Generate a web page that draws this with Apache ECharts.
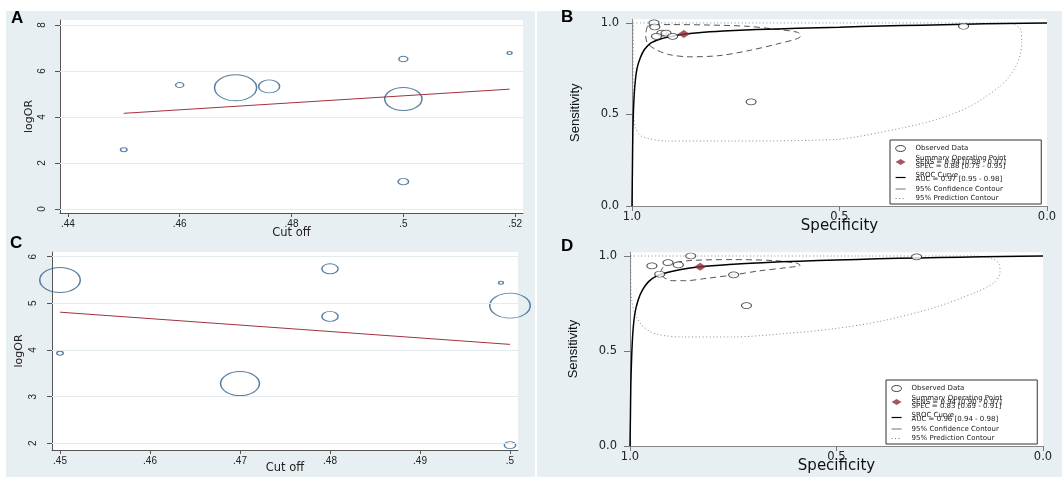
<!DOCTYPE html>
<html>
<head>
<meta charset="utf-8">
<script src="https://cdn.jsdelivr.net/npm/echarts@6/dist/echarts.min.js"></script>
<style>
html, body { margin: 0; padding: 0; background: #fff; }
#main { width: 1062px; height: 477px; }
</style>
</head>
<body>
<div id="main"></div>
<script>
// --- panel A: meta-regression of logOR on cut off (bubble = study weight)
const aCut    = [0.450, 0.460, 0.470, 0.476, 0.500, 0.500, 0.500, 0.519];
const aLogOR  = [2.58, 5.39, 5.27, 5.33, 6.52, 4.78, 1.19, 6.78];
const aWeight = [16, 25, 676, 169, 30, 529, 42, 9];
const aFitCut = [0.450, 0.519];
const aFit    = [4.16, 5.21];
const aXTicks = [0.44, 0.46, 0.48, 0.50, 0.52];
const aYTicks = [0, 2, 4, 6, 8];

// --- panel C
const cCut    = [0.450, 0.450, 0.470, 0.480, 0.480, 0.499, 0.500, 0.500];
const cLogOR  = [5.50, 3.93, 3.28, 5.74, 4.72, 5.44, 4.95, 1.96];
const cWeight = [625, 16, 576, 100, 100, 9, 625, 49];
const cFitCut = [0.450, 0.500];
const cFit    = [4.81, 4.12];
const cXTicks = [0.45, 0.46, 0.47, 0.48, 0.49, 0.50];
const cYTicks = [2, 3, 4, 5, 6];

// --- panel B: SROC
const bSpec = [0.947, 0.945, 0.928, 0.918, 0.941, 0.902, 0.201, 0.713];
const bSens = [1.000, 0.978, 0.945, 0.945, 0.927, 0.927, 0.982, 0.569];
const bSumSpec = [0.875];
const bSumSens = [0.940];
const bSrocSpec = [1.0, 0.999, 0.998, 0.996, 0.993, 0.988, 0.98, 0.97, 0.955, 0.935, 0.91, 0.88, 0.84, 0.78, 0.7, 0.6, 0.5, 0.4, 0.3, 0.2, 0.1, 0.0];
const bSrocSens = [0.0, 0.2, 0.4, 0.55, 0.66, 0.75, 0.81, 0.855, 0.89, 0.91, 0.925, 0.937, 0.947, 0.956, 0.964, 0.971, 0.977, 0.983, 0.988, 0.993, 0.997, 1.0];
const bCiSpec = [0.963, 0.967, 0.963, 0.943, 0.910, 0.861, 0.788, 0.715, 0.650, 0.601, 0.593, 0.601, 0.658, 0.723, 0.821, 0.902, 0.943, 0.963];
const bCiSens = [0.982, 0.936, 0.891, 0.855, 0.827, 0.815, 0.822, 0.851, 0.885, 0.915, 0.931, 0.949, 0.967, 0.982, 0.989, 0.991, 0.989, 0.982];
const bPiSpec = [0.997, 0.5, 0.09, 0.079, 0.063, 0.061, 0.071, 0.104, 0.185, 0.266, 0.348, 0.511, 0.755, 0.918, 0.976, 0.99, 0.996, 0.997, 0.997, 0.997];
const bPiSens = [1.0, 1.0, 1.0, 0.993, 0.964, 0.891, 0.782, 0.673, 0.545, 0.473, 0.427, 0.364, 0.355, 0.355, 0.38, 0.418, 0.49, 0.58, 0.8, 1.0];
const bText = {
  'Summary Operating Point': 'Summary Operating Point\nSENS = 0.94 [0.88 - 0.97]\nSPEC = 0.88 [0.75 - 0.95]',
  'SROC Curve': 'SROC Curve\nAUC = 0.97 [0.95 - 0.98]'
};

// --- panel D: SROC
const dSpec = [0.853, 0.947, 0.908, 0.883, 0.928, 0.749, 0.306, 0.718];
const dSens = [1.000, 0.948, 0.965, 0.953, 0.904, 0.901, 0.995, 0.739];
const dSumSpec = [0.830];
const dSumSens = [0.944];
const dSrocSpec = [1.0, 0.999, 0.998, 0.996, 0.993, 0.988, 0.98, 0.97, 0.955, 0.935, 0.91, 0.88, 0.83, 0.76, 0.68, 0.59, 0.5, 0.4, 0.3, 0.2, 0.1, 0.0];
const dSrocSens = [0.0, 0.15, 0.32, 0.47, 0.6, 0.70, 0.77, 0.82, 0.865, 0.895, 0.913, 0.928, 0.943, 0.955, 0.965, 0.973, 0.979, 0.985, 0.99, 0.994, 0.997, 1.0];
const dCiSpec = [0.927, 0.918, 0.890, 0.849, 0.751, 0.653, 0.596, 0.588, 0.620, 0.686, 0.751, 0.816, 0.865, 0.898, 0.918, 0.927];
const dCiSens = [0.913, 0.944, 0.965, 0.977, 0.981, 0.976, 0.962, 0.951, 0.939, 0.922, 0.900, 0.882, 0.870, 0.870, 0.887, 0.913];
const dPiSpec = [0.998, 0.5, 0.16, 0.122, 0.106, 0.104, 0.118, 0.163, 0.261, 0.384, 0.506, 0.629, 0.751, 0.873, 0.939, 0.971, 0.988, 0.996, 0.998, 0.998];
const dPiSens = [1.0, 1.0, 1.0, 0.986, 0.957, 0.913, 0.861, 0.809, 0.73, 0.661, 0.617, 0.591, 0.574, 0.574, 0.591, 0.635, 0.696, 0.774, 0.9, 1.0];
const dText = {
  'Summary Operating Point': 'Summary Operating Point\nSENS = 0.94 [0.90 - 0.97]\nSPEC = 0.83 [0.69 - 0.91]',
  'SROC Curve': 'SROC Curve\nAUC = 0.96 [0.94 - 0.98]'
};
const rocTicks = [0, 0.5, 1];

const FONT = 'DejaVu Sans';
const BG = '#e8eff2';
const BUBBLE = '#2f5f8c';
const FIT = '#a3323c';
const AXIS = '#555';
const NONE = 'rgba(0,0,0,0)';

const zip = (xs, ys) => xs.map((x, i) => [x, ys[i]]);
const bubbleSize = w => [Math.sqrt(w) * 1.62, Math.sqrt(w)];
const cutLabel = v => String(+v.toFixed(2)).replace(/^0/, '');

function cutAxes(grid, xMin, xMax, xTicks, yMin, yMax, yTicks, yLabelMargin, nameGapX, nameGapY) {
  const x = {
    gridIndex: grid, type: 'value', min: xMin, max: xMax,
    axisLine: { show: true, onZero: false, lineStyle: { color: AXIS, width: 1 } },
    axisTick: { show: true, length: 4, customValues: xTicks, lineStyle: { color: AXIS } },
    axisLabel: { customValues: xTicks, formatter: cutLabel, margin: 6, fontSize: 10, color: '#222', fontFamily: 'Liberation Sans' },
    splitLine: { show: false },
    name: 'Cut off', nameLocation: 'middle', nameGap: nameGapX, nameMoveOverlap: false,
    nameTextStyle: { fontFamily: FONT, fontSize: 11.5, color: '#222' }
  };
  const y = {
    gridIndex: grid, type: 'value', min: yMin, max: yMax,
    axisLine: { show: true, onZero: false, lineStyle: { color: AXIS, width: 1 } },
    axisTick: { show: true, length: 5, customValues: yTicks, lineStyle: { color: AXIS } },
    axisLabel: { customValues: yTicks, rotate: 90, margin: yLabelMargin, fontSize: 10, color: '#222', fontFamily: 'Liberation Sans' },
    splitLine: { show: false },
    name: 'logOR', nameLocation: 'middle', nameGap: nameGapY, nameMoveOverlap: false,
    nameTextStyle: { fontFamily: FONT, fontSize: 11, color: '#222' }
  };
  return [x, y];
}

function rocAxes(grid) {
  const x = {
    gridIndex: grid, type: 'value', min: 0, max: 1, inverse: true,
    axisLine: { show: true, onZero: false, lineStyle: { color: '#888', width: 1 } },
    axisTick: { show: true, length: 5, customValues: rocTicks, lineStyle: { color: '#777' } },
    axisLabel: { customValues: rocTicks, formatter: v => v.toFixed(1), margin: 5, fontSize: 11.5, color: '#222', fontFamily: FONT },
    splitLine: { show: false },
    name: 'Specificity', nameLocation: 'middle', nameGap: 12.5, nameMoveOverlap: false,
    nameTextStyle: { fontFamily: FONT, fontSize: 15, color: '#111' }
  };
  const y = {
    gridIndex: grid, type: 'value', min: 0, max: 1.02,
    axisLine: { show: true, onZero: false, lineStyle: { color: '#888', width: 1 } },
    axisTick: { show: true, length: 6, customValues: rocTicks, lineStyle: { color: '#777' } },
    axisLabel: { customValues: rocTicks, formatter: v => v.toFixed(1), margin: 13, fontSize: 11.5, color: '#222', fontFamily: FONT },
    splitLine: { show: false },
    name: 'Sensitivity', nameLocation: 'middle', nameGap: 50, nameMoveOverlap: false,
    nameTextStyle: { fontFamily: "'Liberation Sans Narrow', 'Liberation Sans'", fontSize: 13, color: '#111' }
  };
  return [x, y];
}

function cutSeries(idx, cut, logor, weight, fitCut, fit, yTicks) {
  return [
    {
      type: 'line', xAxisIndex: idx, yAxisIndex: idx, z: 2,
      data: zip(fitCut, fit), symbol: 'none',
      lineStyle: { color: FIT, width: 1 },
      markLine: {
        silent: true, symbol: ['none', 'none'], label: { show: false },
        lineStyle: { color: '#e4ebee', width: 1, type: 'solid' },
        data: yTicks.map(v => ({ yAxis: v }))
      }
    },
    {
      type: 'scatter', xAxisIndex: idx, yAxisIndex: idx, z: 3,
      data: cut.map((x, i) => [x, logor[i], weight[i]]),
      symbol: 'circle', symbolSize: v => bubbleSize(v[2]),
      itemStyle: { color: NONE, borderColor: BUBBLE, borderWidth: 1.2 }
    }
  ];
}

function rocSeries(idx, spec, sens, sumSpec, sumSens, srocSpec, srocSens, ciSpec, ciSens, piSpec, piSens) {
  return [
    {
      name: '95% Prediction Contour', type: 'line', xAxisIndex: idx, yAxisIndex: idx, z: 2,
      data: zip(piSpec, piSens), symbol: 'none', smooth: 0.3,
      itemStyle: { color: NONE },
      lineStyle: { color: '#8a8a8a', width: 1, type: [1, 2.5] }
    },
    {
      name: '95% Confidence Contour', type: 'line', xAxisIndex: idx, yAxisIndex: idx, z: 3,
      data: zip(ciSpec, ciSens), symbol: 'none', smooth: 0.3,
      itemStyle: { color: NONE },
      lineStyle: { color: '#555', width: 1, type: [6, 4] }
    },
    {
      name: 'SROC Curve', type: 'line', xAxisIndex: idx, yAxisIndex: idx, z: 4,
      data: zip(srocSpec, srocSens), symbol: 'none', smooth: 0.25,
      itemStyle: { color: NONE },
      lineStyle: { color: '#000', width: 1.5 }
    },
    {
      name: 'Observed Data', type: 'scatter', xAxisIndex: idx, yAxisIndex: idx, z: 5,
      data: zip(spec, sens), symbol: 'circle', symbolSize: [10, 6],
      itemStyle: { color: '#fff', borderColor: '#222', borderWidth: 0.9 }
    },
    {
      name: 'Summary Operating Point', type: 'scatter', xAxisIndex: idx, yAxisIndex: idx, z: 6,
      data: zip(sumSpec, sumSens), symbol: 'diamond', symbolSize: [12, 8],
      itemStyle: { color: '#8c2d3b' }
    }
  ];
}

function rocLegend(left, top, texts) {
  const hidden = { color: NONE, borderColor: NONE, borderWidth: 0, opacity: 0 };
  return {
    left: left, top: top, orient: 'vertical', selectedMode: false,
    backgroundColor: '#fff', borderColor: '#333', borderWidth: 1, borderRadius: 0,
    padding: [5, 35, 2, 5], itemGap: 2.5, itemWidth: 10, itemHeight: 6,
    symbolKeepAspect: false,
    textStyle: { fontFamily: FONT, fontSize: 7, lineHeight: 4, color: '#222', padding: [0, 0, 0, 5] },
    formatter: name => texts[name] || name,
    data: [
      { name: 'Observed Data', icon: 'path://M0,5A5,5,0,1,1,10,5A5,5,0,1,1,0,5Z',
        itemStyle: { color: '#fff', borderColor: '#111', borderWidth: 1 } },
      { name: 'Summary Operating Point', icon: 'diamond', itemStyle: { color: '#8c2d3b' } },
      { name: 'SROC Curve', itemStyle: hidden, lineStyle: { color: '#000', width: 1.2, type: 'solid' } },
      { name: '95% Confidence Contour', itemStyle: hidden, lineStyle: { type: 'solid', color: '#777', width: 1 } },
      { name: '95% Prediction Contour', itemStyle: hidden, lineStyle: { type: [1, 2.5], color: '#777', width: 1 } }
    ]
  };
}

const [axA, ayA] = cutAxes(0, 0.4386, 0.5214, aXTicks, -0.174, 8.217, aYTicks, 13, 14, 25);
const [axB, ayB] = rocAxes(1);
const [axC, ayC] = cutAxes(2, 0.44911, 0.50089, cXTicks, 1.856, 6.1, cYTicks, 14, 12.5, 27);
const [axD, ayD] = rocAxes(3);

const panelTitle = (text, left, top) => ({
  text: text, left: left, top: top, padding: 0,
  textStyle: { fontFamily: 'Liberation Sans', fontSize: 17, fontWeight: 'bold', color: '#000' }
});

const chart = echarts.init(document.getElementById('main'), null, { renderer: 'canvas' });
chart.setOption({
  animation: false,
  backgroundColor: '#fff',
  graphic: [
    { type: 'rect', z: -10, shape: { x: 6, y: 11, width: 529, height: 466 }, style: { fill: BG } },
    { type: 'rect', z: -10, shape: { x: 537, y: 11, width: 525, height: 466 }, style: { fill: BG } }
  ],
  title: [
    panelTitle('A', 11, 10),
    panelTitle('B', 561, 9),
    panelTitle('C', 10, 235),
    panelTitle('D', 561, 238)
  ],
  grid: [
    { left: 60, top: 20, width: 463, height: 193, show: true, backgroundColor: '#fff', borderWidth: 0 },
    { left: 632, top: 19.3, width: 415, height: 186.7, show: true, backgroundColor: '#fff', borderWidth: 0 },
    { left: 52, top: 252, width: 466, height: 198, show: true, backgroundColor: '#fff', borderWidth: 0 },
    { left: 630, top: 252.2, width: 413, height: 193.8, show: true, backgroundColor: '#fff', borderWidth: 0 }
  ],
  xAxis: [axA, axB, axC, axD],
  yAxis: [ayA, ayB, ayC, ayD],
  legend: [
    rocLegend(890, 140, bText),
    rocLegend(886, 380, dText)
  ],
  series: [].concat(
    cutSeries(0, aCut, aLogOR, aWeight, aFitCut, aFit, aYTicks),
    rocSeries(1, bSpec, bSens, bSumSpec, bSumSens, bSrocSpec, bSrocSens, bCiSpec, bCiSens, bPiSpec, bPiSens),
    cutSeries(2, cCut, cLogOR, cWeight, cFitCut, cFit, cYTicks),
    rocSeries(3, dSpec, dSens, dSumSpec, dSumSens, dSrocSpec, dSrocSens, dCiSpec, dCiSens, dPiSpec, dPiSens)
  )
});
</script>
</body>
</html>
